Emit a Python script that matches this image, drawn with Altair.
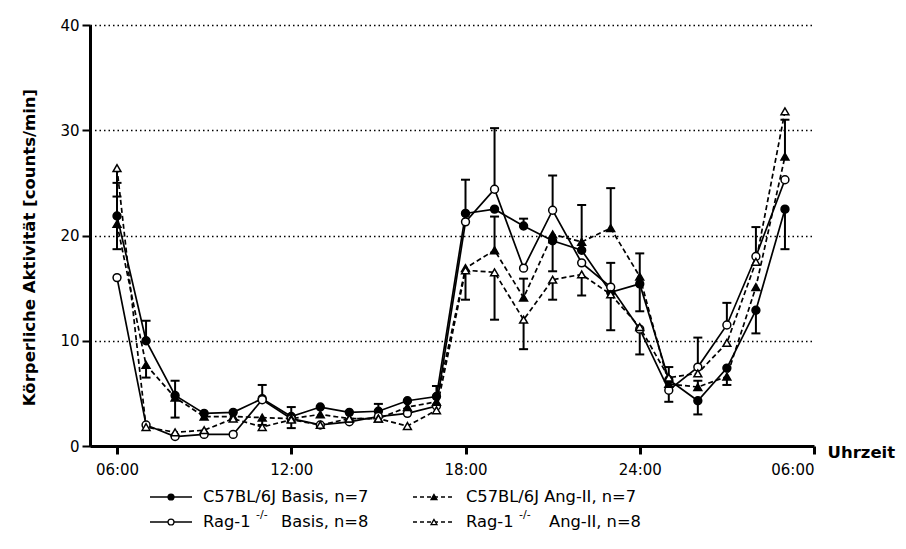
import altair as alt
import pandas as pd

# ---------------- data ----------------
hours = list(range(6, 30))  # 06:00 ... 05:00 next day (29 h)

c57_basis = [21.85, 10.0, 4.8, 3.1, 3.2, 4.5, 2.8, 3.7, 3.2, 3.3, 4.3, 4.7,
             22.1, 22.5, 20.9, 19.5, 18.6, 14.6, 15.4, 6.3, 4.3, 7.4, 12.9, 22.5]
rag_basis = [16.0, 2.0, 0.9, 1.1, 1.1, 4.4, 2.6, 2.0, 2.3, 2.8, 3.1, 3.8,
             21.3, 24.4, 16.9, 22.4, 17.4, 15.1, 11.1, 5.3, 7.5, 11.5, 18.0, 25.3]
c57_ang = [21.1, 7.7, 4.6, 2.8, 2.8, 2.7, 2.6, 3.0, 2.6, 2.6, 3.7, 4.2,
           16.9, 18.6, 14.1, 20.1, 19.4, 20.7, 16.1, 5.9, 5.6, 6.6, 15.1, 27.5]
rag_ang = [26.4, 1.8, 1.3, 1.5, 2.6, 1.8, 2.5, 2.0, 2.6, 2.6, 1.9, 3.4,
           16.7, 16.5, 12.0, 15.8, 16.3, 14.4, 11.3, 6.5, 6.9, 9.8, 17.5, 31.8]

# end value of the (one-sided) SEM error bar, None = not visible
c57_basis_err = [25.0, 11.9, 6.2, None, None, 5.8, 3.7, None, None, None, None, 5.7,
                 25.3, None, 21.6, 16.6, 22.9, 17.4, 12.8, None, 3.0, None, 10.7, 18.7]
rag_basis_err = [None, None, None, None, None, None, None, None, None, None, None, None,
                 None, 30.2, None, 25.7, None, None, 8.7, 4.2, 10.3, 13.6, 20.8, None]
c57_ang_err = [18.7, 6.5, 2.7, None, None, 2.0, None, None, None, 4.0, None, None,
               None, 21.8, 15.9, None, None, 24.5, 18.3, None, 6.2, 5.8, None, 31.0]
rag_ang_err = [23.7, None, None, None, None, None, 1.7, None, None, None, None, None,
               13.9, 12.0, 9.2, 13.9, 14.3, 11.0, None, 7.5, None, None, None, None]

series_keys = ["c57_basis", "rag_basis", "c57_ang", "rag_ang"]
series_values = [c57_basis, rag_basis, c57_ang, rag_ang]
series_errs = [c57_basis_err, rag_basis_err, c57_ang_err, rag_ang_err]

x_tick_values = [6, 12, 18, 24, 30]
x_tick_labels = ["06:00", "12:00", "18:00", "24:00", "06:00"]
y_tick_values = [0, 10, 20, 30, 40]

legend_main = ["C57BL/6J Basis, n=7", "Rag-1", "C57BL/6J Ang-II, n=7", "Rag-1"]
legend_sup = [None, "-/-", None, "-/-"]
legend_rest = [None, "Basis, n=8", None, "Ang-II, n=8"]

# ---------------- styles ----------------
FONT = "DejaVu Sans"
styles = {
    "c57_basis": dict(shape="circle", fill="black", dash=None),
    "rag_basis": dict(shape="circle", fill="white", dash=None),
    "c57_ang": dict(shape="triangle-up", fill="black", dash=[5, 3]),
    "rag_ang": dict(shape="triangle-up", fill="white", dash=[5, 3]),
}

W, H = 724, 421

label_expr = "''"
for v, lab in reversed(list(zip(x_tick_values, x_tick_labels))):
    label_expr = f"datum.value == {v} ? '{lab}' : ({label_expr})"

x_axis = alt.Axis(
    values=x_tick_values, labelExpr=label_expr, grid=False,
    domainWidth=3, tickWidth=3, tickSize=8, labelFontSize=15, labelPadding=8,
    title="Uhrzeit", titleFontSize=16.5, titleFontWeight="bold",
    titleX=W + 13, titleY=6, titleAlign="left", titleBaseline="middle",
)
y_axis = alt.Axis(
    values=y_tick_values, grid=True, gridDash=[1.5, 3], gridColor="black",
    gridWidth=1.5, domainWidth=3, tickWidth=2, tickSize=8, labelFontSize=15,
    labelPadding=3, title="Körperliche Aktivität [counts/min]",
    titleFontSize=16.5, titleFontWeight="bold", titleX=-53, titleY=222,
)

X = alt.X("hour:Q", scale=alt.Scale(domain=[5.07, 30], nice=False, zero=False), axis=x_axis)
Y = alt.Y("value:Q", scale=alt.Scale(domain=[0, 40], nice=False), axis=y_axis)

line_layers, err_layers, point_layers = [], [], []
for key, vals, errs in zip(series_keys, series_values, series_errs):
    st = styles[key]
    df = pd.DataFrame({"hour": hours, "value": vals})
    edf = pd.DataFrame({"hour": hours, "value": vals, "err": errs}).dropna()
    line_kw = dict(color="black", strokeWidth=1.7)
    if st["dash"]:
        line_kw["strokeDash"] = st["dash"]
    line_layers.append(alt.Chart(df).mark_line(**line_kw).encode(x=X, y=Y))
    err_layers.append(
        alt.Chart(edf).mark_rule(color="black", strokeWidth=2).encode(
            x=X, y=Y, y2="err:Q"))
    err_layers.append(
        alt.Chart(edf).mark_tick(orient="horizontal", color="black", thickness=2, size=9,
                                 opacity=1).encode(
            x=X, y=alt.Y("err:Q")))
    point_layers.append(
        alt.Chart(df).mark_point(shape=st["shape"], filled=True, fill=st["fill"],
                                 stroke="black", strokeWidth=1.5, size=62, opacity=1).encode(x=X, y=Y))

# ---------------- manual legend ----------------
one = pd.DataFrame({"a": [0]})
leg_layers = []
leg_pos = [(0, 0), (0, 1), (1, 0), (1, 1)]
col_x = [60, 323]
row_y = [472, 497]
for i, key in enumerate(series_keys):
    st = styles[key]
    c, r = leg_pos[i]
    x0 = col_x[c]
    yy = row_y[r]
    rk = dict(color="black", strokeWidth=1.5)
    if st["dash"]:
        rk["strokeDash"] = [4, 3]
    leg_layers.append(alt.Chart(one).mark_rule(**rk).encode(
        x=alt.value(x0), x2=alt.value(x0 + 42), y=alt.value(yy)))
    leg_layers.append(alt.Chart(one).mark_point(
        shape=st["shape"], filled=True, fill=st["fill"], stroke="black",
        strokeWidth=1.3, size=35, opacity=1).encode(x=alt.value(x0 + 21), y=alt.value(yy)))
    tx = x0 + 53
    leg_layers.append(alt.Chart(one).mark_text(
        align="left", baseline="middle", font=FONT, fontSize=16.3, color="black").encode(
        x=alt.value(tx), y=alt.value(yy), text=alt.value(legend_main[i])))
    if legend_sup[i]:
        leg_layers.append(alt.Chart(one).mark_text(
            align="left", baseline="middle", font=FONT, fontSize=11, color="black").encode(
            x=alt.value(tx + 53), y=alt.value(yy - 7), text=alt.value(legend_sup[i])))
        leg_layers.append(alt.Chart(one).mark_text(
            align="left", baseline="middle", font=FONT, fontSize=16.3, color="black").encode(
            x=alt.value(tx + 78 + (5 if c == 1 else 0)), y=alt.value(yy),
            text=alt.value(legend_rest[i])))

chart = alt.layer(*line_layers, *err_layers, *point_layers, *leg_layers).properties(
    width=W, height=H,
    padding={"left": 82, "top": 17, "right": 84, "bottom": 92},
    autosize=alt.AutoSizeParams(type="none"),
).configure_view(stroke=None).configure_axis(
    domainColor="black", tickColor="black", labelColor="black", titleColor="black",
    labelFont=FONT, titleFont=FONT,
)

chart.save("out.html", embed_options={"renderer": "svg", "actions": False})
